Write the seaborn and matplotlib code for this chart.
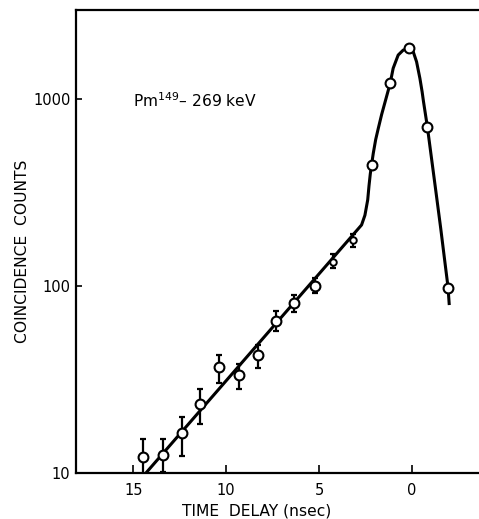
import numpy as np
import pandas as pd
import matplotlib
matplotlib.use("Agg")
import matplotlib.pyplot as plt
import seaborn as sns

# Measured points (time delay in nsec, coincidence counts)
delay = [14.46, 13.42, 12.40, 11.41, 10.39, 9.31, 8.31, 7.34, 6.33, 5.24,
         4.24, 3.19, 2.16, 1.17, 0.17, -0.83, -1.94]
counts = [12.2, 12.5, 16.4, 23.4, 36.9, 33.6, 42.8, 65.3, 81.1, 101,
          135.5, 177, 448, 1219, 1875, 714, 98]
err_low = [9.8, 10.2, 12.3, 18.4, 30.3, 28.1, 36.4, 57.7, 73.3, 91.8,
           125, 163, np.nan, np.nan, np.nan, np.nan, np.nan]
err_high = [15.3, 15.3, 20.1, 28.1, 42.8, 38.3, 48.6, 73.8, 89.6, 111,
            149, 190, np.nan, np.nan, np.nan, np.nan, np.nan]
small_marker = [False]*10 + [True, True] + [False]*5

# Fitted curve
fit_x = [14.33, 2.71, 2.53, 2.38, 2.31, 2.24, 2.16, 2.08, 1.95, 1.81, 1.63,
         1.36, 1.17, 1.01, 0.74, 0.47, 0.20, -0.07, -0.25, -0.43, -0.55,
         -0.62, -0.83, -1.06, -1.30, -1.55, -1.75, -1.94, -2.01]
fit_y = [10, 213, 240, 290, 345, 400, 455, 515, 610, 700, 830,
         1040, 1219, 1466, 1726, 1834, 1875, 1798, 1589, 1294, 1096,
         977, 714, 479, 316, 204, 141, 99.6, 79.4]

y_ticks = [10, 100, 1000]
x_ticks = [15, 10, 5, 0]

sns.set_style("ticks")
plt.rcParams['font.family'] = ['DejaVu Sans']
plt.rcParams['text.color'] = 'black'
plt.rcParams['axes.labelcolor'] = 'black'

fig = plt.figure(figsize=(4.79, 5.19), dpi=100)
ax = fig.add_axes([76/479, 45.7/519, (479-76)/479, 463.3/519])

fit_df = pd.DataFrame({"x": fit_x, "y": fit_y})
sns.lineplot(data=fit_df, x="x", y="y", sort=False, estimator=None,
             color="black", lw=2.2, ax=ax, zorder=2)
for ln in ax.get_lines():
    ln.set_solid_joinstyle("round")
    ln.set_solid_capstyle("butt")

pts = pd.DataFrame({"x": delay, "y": counts, "lo": err_low, "hi": err_high,
                    "small": small_marker})
eb = pts.dropna()
ax.errorbar(eb["x"], eb["y"], yerr=[eb["y"] - eb["lo"], eb["hi"] - eb["y"]],
            fmt="none", ecolor="black", elinewidth=1.6, capsize=2.0,
            capthick=1.6, zorder=3)

big = pts[~pts["small"]]
sml = pts[pts["small"]]
sns.scatterplot(data=big, x="x", y="y", s=50, marker="o", facecolor="white",
                edgecolor="black", linewidth=1.5, ax=ax, zorder=4)
sns.scatterplot(data=sml, x="x", y="y", s=22, marker="o", facecolor="white",
                edgecolor="black", linewidth=1.4, ax=ax, zorder=4)

ax.set_yscale("log")
ax.set_xlim(18.08, -3.61)
ax.set_ylim(10, 3006)
ax.set_yticks(y_ticks)
ax.set_yticklabels([str(v) for v in y_ticks])
ax.yaxis.set_minor_locator(matplotlib.ticker.NullLocator())
ax.set_xticks(x_ticks)
ax.set_xticklabels([str(v) for v in x_ticks])

ax.tick_params(axis="y", direction="in", length=4.5, width=1.2, pad=4,
               labelsize=10.5, colors="black")
ax.tick_params(axis="x", direction="in", length=5.8, width=1.2, pad=7,
               labelsize=10.5, colors="black")

for s in ["left", "bottom", "top"]:
    ax.spines[s].set_linewidth(1.6)
    ax.spines[s].set_color("black")
ax.spines["right"].set_visible(False)

ax.set_xlabel("TIME  DELAY (nsec)", fontsize=11.2, color="black")
ax.xaxis.set_label_coords((257 - 76) / 403, -(511 - 473.3) / 463.3)
ax.xaxis.label.set_va("center")
ax.set_ylabel("COINCIDENCE  COUNTS", fontsize=11.2, color="black")
ax.yaxis.set_label_coords(-(76 - 23) / 403, (473.3 - 251) / 463.3)
ax.yaxis.label.set_va("center")

ax.text(0.141, 0.79, r"Pm$^{149}$– 269 keV", transform=ax.transAxes,
        fontsize=11.2, va="baseline", ha="left", color="black")

fig.savefig("out.png", dpi=100)
